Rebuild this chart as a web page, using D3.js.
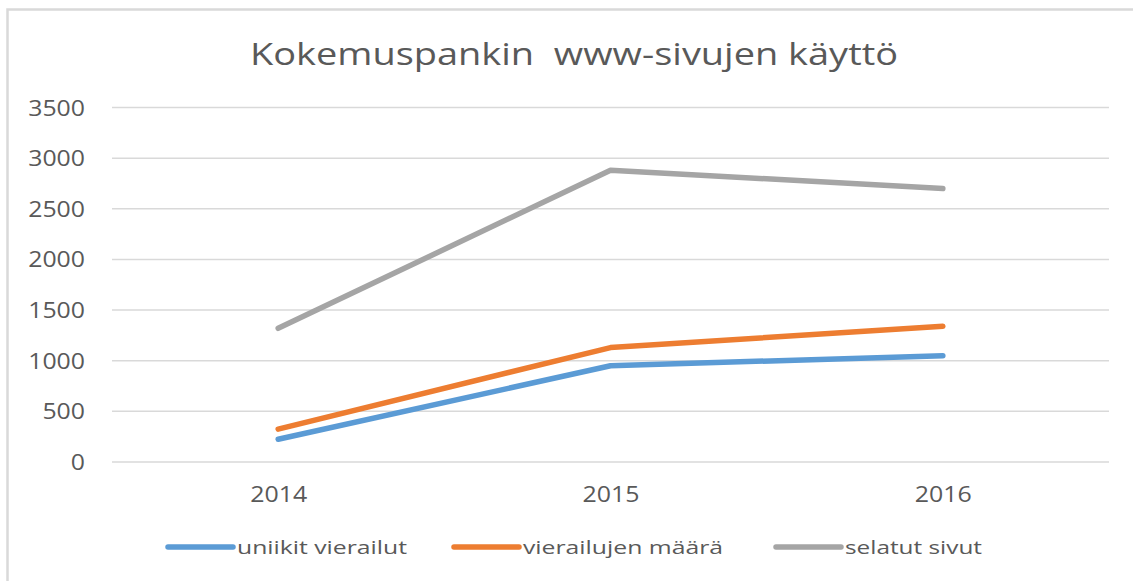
<!DOCTYPE html>
<html>
<head>
<meta charset="utf-8">
<script src="https://cdn.jsdelivr.net/npm/d3@7"></script>
<style>
  body { margin: 0; background: #fff; }
  text { font-family: "Open Sans", sans-serif; fill: #595959; }
</style>
</head>
<body>
<script>
// data
var years = ["2014", "2015", "2016"];
var uniikit = [225, 950, 1050];
var vierailut = [325, 1130, 1340];
var selatut = [1320, 2880, 2700];
var seriesNames = ["uniikit vierailut", "vierailujen määrä", "selatut sivut"];
var yTicks = [0, 500, 1000, 1500, 2000, 2500, 3000, 3500];

var width = 1133, height = 581;
var colors = ["#5b9bd5", "#ed7d31", "#a5a5a5"];
var series = [uniikit, vierailut, selatut];

var svg = d3.select("body").append("svg")
    .attr("width", width).attr("height", height);

svg.append("rect").attr("width", width).attr("height", height).attr("fill", "#fff");

// chart border (runs off the right and bottom of the picture)
svg.append("rect")
    .attr("x", 7.5).attr("y", 9.5)
    .attr("width", 1300).attr("height", 700)
    .attr("fill", "none")
    .attr("stroke", "#d9d9d9")
    .attr("stroke-width", 2.5);

var plot = {left: 112, right: 1109, top: 107.5, bottom: 462};

var x = d3.scalePoint()
    .domain(years)
    .range([plot.left, plot.right])
    .padding(0.5);

var y = d3.scaleLinear()
    .domain([0, 3500])
    .range([plot.bottom, plot.top]);

// gridlines
svg.append("g")
    .selectAll("line")
    .data(yTicks)
    .enter().append("line")
    .attr("x1", plot.left).attr("x2", plot.right)
    .attr("y1", function(d){ return y(d); })
    .attr("y2", function(d){ return y(d); })
    .attr("stroke", "#d9d9d9")
    .attr("stroke-width", 1.5);

// y axis labels
var yAxis = d3.axisLeft(y).tickValues(yTicks).tickFormat(d3.format("d")).tickSize(0).tickPadding(27);
var gy = svg.append("g").attr("transform", "translate(" + plot.left + ",0)").call(yAxis);
gy.select(".domain").remove();
gy.selectAll("text")
    .style("font-size", "21px")
    .attr("fill", "#595959")
    .attr("dy", "0.36em")
    .attr("textLength", function(d){ return String(d).length * 14.2; })
    .attr("lengthAdjust", "spacingAndGlyphs");

// x axis labels
var xAxis = d3.axisBottom(x).tickSize(0).tickPadding(0);
var gx = svg.append("g").attr("transform", "translate(0," + plot.bottom + ")").call(xAxis);
gx.select(".domain").remove();
gx.selectAll("text")
    .style("font-size", "21px")
    .attr("fill", "#595959")
    .attr("dy", null)
    .attr("y", 40)
    .attr("textLength", 57)
    .attr("lengthAdjust", "spacingAndGlyphs");

// lines
var line = d3.line()
    .x(function(d, i){ return x(years[i]); })
    .y(function(d){ return y(d); });

series.forEach(function(s, i){
  svg.append("path")
      .attr("d", line(s))
      .attr("fill", "none")
      .attr("stroke", colors[i])
      .attr("stroke-width", 5.5)
      .attr("stroke-linecap", "round")
      .attr("stroke-linejoin", "round");
});

// title
svg.append("text")
    .attr("x", 574).attr("y", 65)
    .attr("text-anchor", "middle")
    .style("font-size", "31px")
    .style("white-space", "pre")
    .attr("textLength", 648)
    .attr("lengthAdjust", "spacingAndGlyphs")
    .text("Kokemuspankin  www-sivujen käyttö");

// legend
var legendX = [168, 454, 776];
var legendW = [170, 200, 137];
var legend = svg.append("g").selectAll("g")
    .data(seriesNames)
    .enter().append("g")
    .attr("transform", function(d, i){ return "translate(" + legendX[i] + ",547)"; });

legend.append("line")
    .attr("x1", 0).attr("x2", 65)
    .attr("stroke", function(d, i){ return colors[i]; })
    .attr("stroke-width", 5.5)
    .attr("stroke-linecap", "round");

legend.append("text")
    .attr("x", 69).attr("y", 6.5)
    .style("font-size", "19px")
    .attr("textLength", function(d, i){ return legendW[i]; })
    .attr("lengthAdjust", "spacingAndGlyphs")
    .text(function(d){ return d; });
</script>
</body>
</html>
